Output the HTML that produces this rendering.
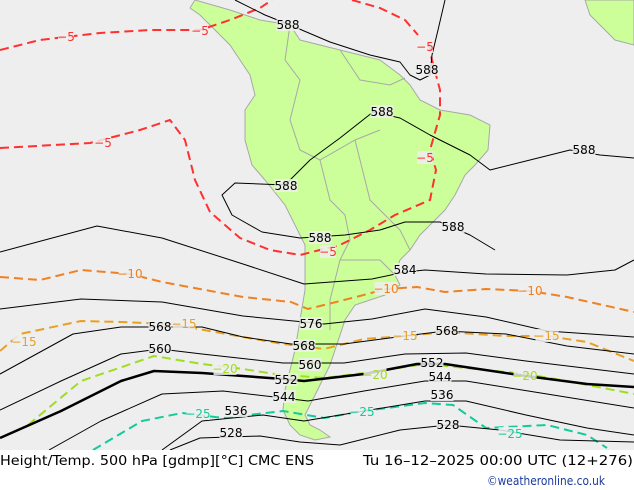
<!DOCTYPE html>
<html><head><meta charset="utf-8">
<style>
html,body{margin:0;padding:0;background:#fff;}
#wrap{position:relative;width:634px;height:490px;overflow:hidden;font-family:"DejaVu Sans","Liberation Sans",sans-serif;}
svg{position:absolute;left:0;top:0;}
</style></head>
<body>
<div id="wrap">
<svg id="map" width="634" height="450">
<rect x="0" y="0" width="634" height="450" fill="#eeeeee"/>
<polygon fill="#ccff99" stroke="#a8a8a8" stroke-width="1" points="195,0 230,10 260,20 290,25 300,40 340,50 380,60 400,75 410,85 420,100 440,110 470,115 490,125 488,150 475,165 465,175 455,195 445,210 430,225 420,235 410,250 400,260 395,275 400,285 385,295 370,300 355,305 345,320 340,335 335,350 330,365 325,375 320,385 315,395 310,405 305,415 310,425 320,430 330,437 315,440 300,435 290,425 283,410 285,390 290,370 295,350 300,320 305,290 305,260 305,245 295,225 285,205 265,180 252,165 245,140 245,110 255,95 250,75 240,60 230,45 220,35 210,25 200,15 190,8"/>
<polygon fill="#ccff99" stroke="#a8a8a8" points="585,0 634,0 634,45 615,40 600,25 590,15"/>
<g id="borders" fill="none" stroke="#a8a8a8" stroke-width="1">
<polyline points="290,25 285,60 300,80 290,120 300,150 320,160 355,140 380,130"/>
<polyline points="320,160 330,200 345,215 350,240 340,260 330,300 330,330"/>
<polyline points="355,140 370,200 400,230 410,250"/>
<polyline points="340,260 380,260 395,275"/>
<polyline points="340,50 360,80 390,85 405,78"/>
</g>
<g id="contours"></g>
</svg>
<svg width="634" height="40" style="top:450px">
<text x="0" y="15" font-size="13" font-family="DejaVu Sans, Liberation Sans, sans-serif" textLength="314" lengthAdjust="spacingAndGlyphs">Height/Temp. 500 hPa [gdmp][°C] CMC ENS</text>
<text x="363" y="15" font-size="13" font-family="DejaVu Sans, Liberation Sans, sans-serif" textLength="270" lengthAdjust="spacingAndGlyphs">Tu 16–12–2025 00:00 UTC (12+276)</text>
<text x="487" y="35" font-size="12" fill="#1a3aa0" font-family="DejaVu Sans, Liberation Sans, sans-serif" textLength="118" lengthAdjust="spacingAndGlyphs">©weatheronline.co.uk</text>
</svg>
</div>
<script>
// Height contours (gdmp): label values and map traces
const heightLevels = [588, 588, 588, 584, 576, 568, 560, 552, 544, 536, 528];
const h588a = [[235,0],[265,15],[290,25],[330,42],[370,55],[400,62],[410,75],[420,80],[430,75],[432,55],[438,30],[445,0]];
const h588b = [[285,185],[310,160],[340,138],[373,112],[400,118],[430,135],[470,155],[490,170],[530,160],[570,150],[600,155],[634,158]];
const h588c = [[285,185],[235,183],[222,195],[232,215],[262,232],[300,238],[345,235],[380,230],[405,222],[440,222],[470,235],[495,250]];
const h584 = [[0,252],[97,226],[162,238],[243,264],[304,284],[372,279],[405,272],[425,270],[486,274],[567,275],[615,270],[634,260]];
const h576 = [[0,309],[81,299],[162,302],[243,316],[304,322],[324,324],[372,319],[425,309],[486,317],[547,331],[634,337]];
const h568 = [[0,374],[73,334],[121,327],[202,327],[243,337],[291,344],[344,344],[405,336],[445,331],[506,334],[567,346],[634,354]];
const h560 = [[0,410],[61,381],[121,354],[160,349],[202,354],[283,363],[344,363],[405,354],[466,353],[526,361],[634,374]];
const h552 = [[0,438],[61,411],[121,381],[154,371],[202,373],[283,379],[304,381],[364,374],[417,364],[445,364],[526,376],[587,384],[634,387]];
const h544 = [[49,450],[101,421],[162,394],[223,391],[283,398],[308,401],[364,391],[425,381],[466,381],[547,394],[634,408]];
const h536 = [[162,450],[202,421],[263,415],[304,421],[364,411],[425,401],[466,401],[526,415],[587,428],[634,435]];
const h528 = [[170,450],[200,438],[260,436],[300,442],[340,445],[400,430],[448,425],[500,430],[560,440],[634,442]];
const heightLabels = [[288,25,"588"],[427,70,"588"],[382,112,"588"],[584,150,"588"],[286,186,"588"],[320,238,"588"],[453,227,"588"],[405,270,"584"],[311,324,"576"],[160,327,"568"],[304,346,"568"],[447,331,"568"],[160,349,"560"],[310,365,"560"],[286,380,"552"],[432,363,"552"],[284,397,"544"],[440,377,"544"],[236,411,"536"],[442,395,"536"],[231,433,"528"],[448,425,"528"]];
// Temperature contours (°C)
const tempLevels = [-5, -10, -15, -20, -25];
const tm5a = [[0,50],[40,40],[100,33],[150,30],[200,30],[230,20],[260,8],[272,0]];
const tm5b = [[0,148],[90,143],[140,130],[170,120],[185,140],[195,180],[210,212],[240,238],[270,250],[300,255],[340,245],[370,230],[395,215],[430,200],[436,170],[430,150],[440,115],[440,90],[432,60],[428,40]];
const tm5c = [[352,0],[380,8],[405,20],[418,35]];
const tm10 = [[0,277],[40,280],[81,270],[130,274],[162,282],[243,297],[291,302],[308,309],[356,297],[386,289],[417,287],[445,292],[486,289],[530,291],[567,297],[634,312]];
const tm15 = [[0,351],[20,334],[81,321],[121,322],[170,324],[243,337],[283,344],[324,349],[364,339],[405,336],[445,332],[506,336],[547,336],[587,342],[634,361]];
const tm20 = [[28,425],[81,381],[154,356],[202,364],[243,369],[275,374],[324,378],[364,373],[425,364],[466,368],[526,374],[567,381],[634,394]];
const tm25 = [[93,450],[142,421],[182,413],[223,418],[283,411],[324,418],[364,411],[425,403],[453,405],[486,428],[547,425],[587,435],[607,448]];
const tempLabels = [[66,37,"-5","#ff3030"],[200,31,"-5","#ff3030"],[103,143,"-5","#ff3030"],[425,47,"-5","#ff3030"],[425,158,"-5","#ff3030"],[328,252,"-5","#ff3030"],[130,274,"-10","#f08020"],[386,289,"-10","#f08020"],[530,291,"-10","#f08020"],[24,342,"-15","#e8a020"],[184,324,"-15","#e8a020"],[405,336,"-15","#e8a020"],[547,336,"-15","#e8a020"],[225,369,"-20","#a0dd20"],[375,375,"-20","#a0dd20"],[525,376,"-20","#a0dd20"],[198,414,"-25","#10cc99"],[362,412,"-25","#10cc99"],[510,434,"-25","#10cc99"]];

const NS='http://www.w3.org/2000/svg';
const g=document.getElementById('contours');
function sx(p){return p[0];}
function sy(p){return p[1];}
function line(pts,color,w,dash,name){
  const el=document.createElementNS(NS,'polyline');
  el.setAttribute('points',pts.map(p=>sx(p)+','+sy(p)).join(' '));
  el.setAttribute('fill','none');el.setAttribute('stroke',color);
  el.setAttribute('stroke-width',w);el.setAttribute('stroke-linejoin','round');
  if(dash)el.setAttribute('stroke-dasharray',dash);
  
  
  g.appendChild(el);
}
function label(p,txt,color,name){
  const bg=document.createElementNS(NS,'rect');
  const w=txt.length*7+2;
  bg.setAttribute('x',p[0]-w/2);bg.setAttribute('y',p[1]-7);bg.setAttribute('width',w);bg.setAttribute('height',13);
  bg.setAttribute('fill','#eeeeee');bg.setAttribute('opacity','0.85');
  g.appendChild(bg);
  const t=document.createElementNS(NS,'text');
  t.setAttribute('x',p[0]);t.setAttribute('y',p[1]+4);t.setAttribute('text-anchor','middle');
  t.setAttribute('font-size','12');t.setAttribute('font-family','"DejaVu Sans","Liberation Sans",sans-serif');
  t.setAttribute('fill',color);t.textContent=txt.replace('-','\u2212');
  
  
  g.appendChild(t);
}
[[tm5a,'#ff3030'],[tm5b,'#ff3030'],[tm5c,'#ff3030'],[tm10,'#f08020'],[tm15,'#e8a020'],[tm20,'#a0dd20'],[tm25,'#10cc99']].forEach(a=>line(a[0],a[1],2,'9,5','temp-contour'));
[h588a,h588b,h588c,h584,h576,h568,h560,h544,h536,h528].forEach(a=>line(a,'#000',1,null,'height-contour'));
line(h552,'#000',2.5,null,'height-contour-552');
heightLabels.forEach(l=>label(l,l[2],'#000','height-label'));
tempLabels.forEach(l=>label(l,l[2],l[3],'temp-label'));
</script>
</body></html>
